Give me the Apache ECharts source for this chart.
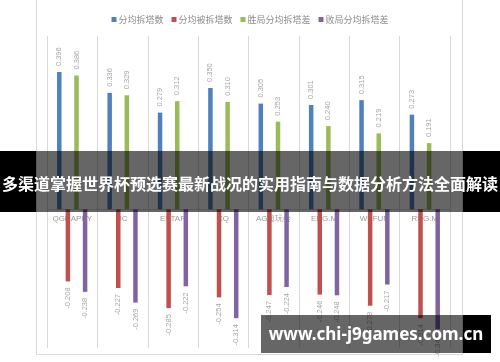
<!DOCTYPE html>
<html>
<head>
<meta charset="utf-8">
<script src="https://cdn.jsdelivr.net/npm/echarts@6/dist/echarts.min.js"></script>
<style>
html,body{margin:0;padding:0;background:#fff;}
#c{width:500px;height:362px;}
</style>
</head>
<body>
<div id="c"></div>
<script>
const categories = ['QGHAPPY', 'JC', 'ESTAR', 'XQ', 'AG超玩会', 'EDG.M', 'WEFUN', 'RNG.M'];
const seriesNames = ['分均拆塔数', '分均被拆塔数', '胜局分均拆塔差', '败局分均拆塔差'];
const towersPerMin = [0.396, 0.336, 0.279, 0.350, 0.305, 0.301, 0.315, 0.273];
const towersLostPerMin = [-0.208, -0.227, -0.285, -0.254, -0.247, -0.246, -0.278, -0.314];
const winDiffPerMin = [0.386, 0.329, 0.312, 0.310, 0.253, 0.240, 0.219, 0.191];
const lossDiffPerMin = [-0.238, -0.269, -0.222, -0.314, -0.224, -0.248, -0.217, -0.346];
const bannerTitle = '多渠道掌握世界杯预选赛最新战况的实用指南与数据分析方法全面解读';
const watermark = 'www.chi-j9games.com.cn';

const colors = ['#4f81bd', '#c0504d', '#9bbb59', '#8064a2'];
const values = [towersPerMin, towersLostPerMin, winDiffPerMin, lossDiffPerMin];

const gridTop = 36, gridBottom = 14, H = 362;
const yMin = -0.4, yMax = 0.5;
const plotH = H - gridTop - gridBottom;
const zeroOffset = plotH * (0 - yMin) / (yMax - yMin);

function makeSeries(i) {
  const neg = i === 1 || i === 3;
  return {
    name: seriesNames[i],
    type: 'bar',
    data: values[i],
    barWidth: 4.5,
    barGap: '91%',
    itemStyle: { color: colors[i] },
    label: {
      show: true,
      position: neg ? 'bottom' : 'top',
      rotate: 90,
      align: neg ? 'right' : 'left',
      verticalAlign: 'middle',
      distance: 6,
      color: '#a6a6a6',
      fontSize: 7.5,
      fontFamily: 'Liberation Sans',
      formatter: p => p.value.toFixed(3)
    }
  };
}

const chart = echarts.init(document.getElementById('c'), null, { renderer: 'canvas' });
chart.setOption({
  animation: false,
  backgroundColor: '#fff',
  legend: {
    data: seriesNames,
    left: 'center',
    top: 10,
    itemWidth: 5,
    itemHeight: 5,
    itemGap: 8,
    icon: 'rect',
    textStyle: { color: '#8c8c8c', fontSize: 9, fontFamily: 'Noto Sans CJK SC', padding: [0, 0, 0, -3] }
  },
  grid: { left: 47, right: 50, top: gridTop, bottom: gridBottom, containLabel: false },
  xAxis: {
    type: 'category',
    data: categories,
    position: 'bottom',
    offset: -zeroOffset,
    axisTick: { show: false },
    axisLine: { show: true, onZero: false, lineStyle: { color: '#d9d9d9' } },
    axisLabel: { color: '#999', fontSize: 8, fontFamily: 'Liberation Sans', margin: 5, interval: 0 },
    splitLine: { show: true, interval: 0, lineStyle: { color: '#d9d9d9', width: 1 } }
  },
  yAxis: {
    type: 'value',
    min: yMin,
    max: yMax,
    show: true,
    axisLine: { show: false },
    axisTick: { show: false },
    axisLabel: { show: false },
    splitLine: { show: false }
  },
  series: [0, 1, 2, 3].map(makeSeries),
  graphic: [
    { type: 'rect', z: 50, shape: { x: 36.5, y: -1, width: 426, height: 355.5 }, style: { fill: 'none', stroke: '#d9d9d9', lineWidth: 1 } },
    { type: 'rect', z: 100, shape: { x: 0, y: 151, width: 36, height: 61 }, style: { fill: '#000' } },
    { type: 'rect', z: 100, shape: { x: 463, y: 151, width: 37, height: 61 }, style: { fill: '#000' } },
    { type: 'rect', z: 100, shape: { x: 36, y: 151, width: 427, height: 61 }, style: { fill: 'rgba(0,0,0,0.6)' } },
    { type: 'text', z: 101, style: { text: bannerTitle, x: 250, y: 184, textAlign: 'center', textVerticalAlign: 'middle', fill: '#fff', font: 'bold 16px "Noto Sans CJK SC"' } },
    { type: 'rect', z: 100, shape: { x: 261, y: 315, width: 202, height: 38 }, style: { fill: 'rgba(0,0,0,0.6)' } },
    { type: 'rect', z: 100, shape: { x: 463, y: 315, width: 28, height: 38 }, style: { fill: '#000' } },
    { type: 'text', z: 101, style: { text: watermark, x: 376, y: 335, textAlign: 'center', textVerticalAlign: 'middle', fill: '#fff', font: 'bold 17px "Noto Sans"' } }
  ]
});
</script>
</body>
</html>
